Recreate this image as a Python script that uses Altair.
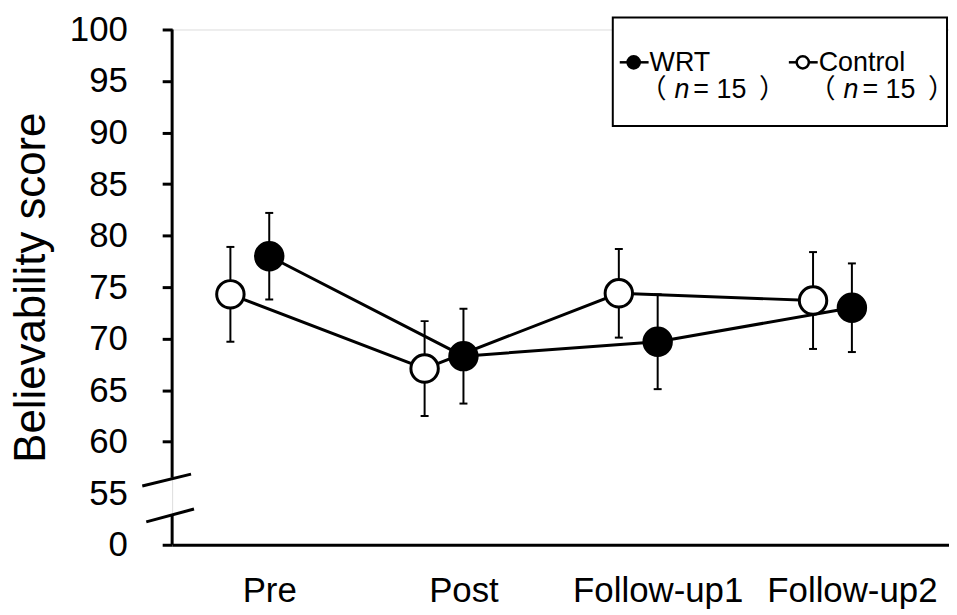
import json
import altair as alt
import pandas as pd

categories = ["Pre", "Post", "Follow-up1", "Follow-up2"]
groups = ["WRT", "Control"]
wrt_mean = [78.0, 68.3, 69.7, 73.0]
wrt_err = [4.2, 4.6, 4.6, 4.3]
ctrl_mean = [74.3, 67.1, 74.4, 73.7]
ctrl_err = [4.6, 4.6, 4.3, 4.7]
ctrl_shift = -0.2
y_ticks = [50, 55, 60, 65, 70, 75, 80, 85, 90, 95, 100]

rows = []
for i, c in enumerate(categories):
    rows.append(dict(cat=c, group="WRT", pos=i, mean=wrt_mean[i],
                     lo=wrt_mean[i] - wrt_err[i], hi=wrt_mean[i] + wrt_err[i]))
    rows.append(dict(cat=c, group="Control", pos=i + ctrl_shift, mean=ctrl_mean[i],
                     lo=ctrl_mean[i] - ctrl_err[i], hi=ctrl_mean[i] + ctrl_err[i]))
df = pd.DataFrame(rows)

FONT = "Liberation Sans"
CJK = "Noto Sans CJK JP"

x_enc = alt.X(
    "pos:Q",
    scale=alt.Scale(domain=[-0.5, 3.5], nice=False, zero=False),
    axis=alt.Axis(
        values=[0, 1, 2, 3],
        labelExpr=json.dumps(categories) + "[datum.value]",
        ticks=False, tickSize=0, grid=False,
        domainColor="black", domainWidth=3,
        labelFont=FONT, labelFontSize=35, labelColor="black",
        labelPadding=57, labelBaseline="alphabetic",
        labelOverlap=False, labelFlush=False, title=None,
    ),
)
y_scale = alt.Scale(domain=[50, 100], nice=False, zero=False)
y_enc = alt.Y(
    "mean:Q",
    scale=y_scale,
    axis=alt.Axis(
        values=y_ticks,
        labelExpr="datum.value == 50 ? '0' : datum.label",
        domain=False, grid=False,
        tickSize=10, tickWidth=3, tickColor="black",
        tickOpacity={"condition": {"test": "datum.value == 55", "value": 0}, "value": 1},
        labelFont=FONT, labelFontSize=35, labelColor="black", labelPadding=35,
        labelOverlap=False, labelFlush=False,
        title="Believability score", titleFont=FONT, titleFontSize=44,
        titleFontWeight="normal", titleColor="black", titleAngle=270,
        titleX=-128, titleY=259, titleBaseline="alphabetic", titleAlign="center",
    ),
)

base = alt.Chart(df)

lines = base.mark_line(color="black", strokeWidth=3).encode(
    x=x_enc, y=y_enc, detail="group:N", order="pos:Q"
)
err = base.mark_rule(color="black", strokeWidth=2).encode(
    x="pos:Q", y=alt.Y("lo:Q", scale=y_scale), y2="hi:Q"
)
cap_lo = base.mark_tick(color="black", orient="horizontal", size=8, thickness=2, opacity=1).encode(
    x="pos:Q", y=alt.Y("lo:Q", scale=y_scale)
)
cap_hi = base.mark_tick(color="black", orient="horizontal", size=8, thickness=2, opacity=1).encode(
    x="pos:Q", y=alt.Y("hi:Q", scale=y_scale)
)
pts = base.mark_circle(stroke="black", strokeWidth=3, size=760, opacity=1).encode(
    x="pos:Q", y="mean:Q",
    fill=alt.Fill("group:N", scale=alt.Scale(domain=groups, range=["black", "white"]), legend=None),
)

# broken y-axis line
axis_segs = pd.DataFrame({"y0": [50, 56.5], "y1": [52.8, 100]})
yaxis_line = alt.Chart(axis_segs).mark_rule(color="black", strokeWidth=3).encode(
    x=alt.value(0), y=alt.Y("y0:Q", scale=y_scale), y2="y1:Q"
)

one = alt.Data(values=[{"k": 1}])
def deco_rule(x1, y1, x2, y2, w=3):
    return alt.Chart(one).mark_rule(color="black", strokeWidth=w).encode(
        x=alt.value(x1), y=alt.value(y1), x2=alt.value(x2), y2=alt.value(y2)
    )

brk1 = deco_rule(-30, 459, 19, 447, 3)
brk2 = deco_rule(-26, 495, 22, 482, 3)

# legend
box = alt.Chart(one).mark_rect(fill="white", stroke="black", strokeWidth=2).encode(
    x=alt.value(443), x2=alt.value(779), y=alt.value(-12), y2=alt.value(97)
)
leg = [box]
for g, dx, fill in [("WRT", 0, "black"), ("Control", 170, "white")]:
    leg.append(deco_rule(450 + dx, 33, 479 + dx, 33, 2.5))
    leg.append(alt.Chart(one).mark_point(shape="circle", filled=True, fill=fill, stroke="black",
                                         strokeWidth=2.5, size=150, opacity=1).encode(
        x=alt.value(464 + dx), y=alt.value(33)))
    leg.append(alt.Chart(one).mark_text(text=g, font=FONT, fontSize=27, align="left",
                                        baseline="alphabetic", color="black").encode(
        x=alt.value(480 + dx), y=alt.value(42)))
    leg.append(alt.Chart(one).mark_text(text="（", font=CJK, fontSize=27, align="left",
                                        baseline="alphabetic", color="black").encode(
        x=alt.value(470 + dx), y=alt.value(69)))
    leg.append(alt.Chart(one).mark_text(text="n", font=FONT, fontSize=27, fontStyle="italic",
                                        align="left", baseline="alphabetic", color="black").encode(
        x=alt.value(505 + dx), y=alt.value(69)))
    leg.append(alt.Chart(one).mark_text(text="= 15", font=FONT, fontSize=27, align="left",
                                        baseline="alphabetic", color="black").encode(
        x=alt.value(524 + dx), y=alt.value(69)))
    leg.append(alt.Chart(one).mark_text(text="）", font=CJK, fontSize=27, align="left",
                                        baseline="alphabetic", color="black").encode(
        x=alt.value(590 + dx), y=alt.value(69)))

chart = alt.layer(lines, err, cap_lo, cap_hi, pts, yaxis_line, brk1, brk2, *leg).properties(
    width=781, height=518,
    padding={"left": 165, "top": 20, "right": 0, "bottom": 66},
    autosize=alt.AutoSizeParams(type="none"),
).configure_view(stroke=None).configure(background="white")

chart.save("out.html", embed_options={"renderer": "svg", "actions": False})
